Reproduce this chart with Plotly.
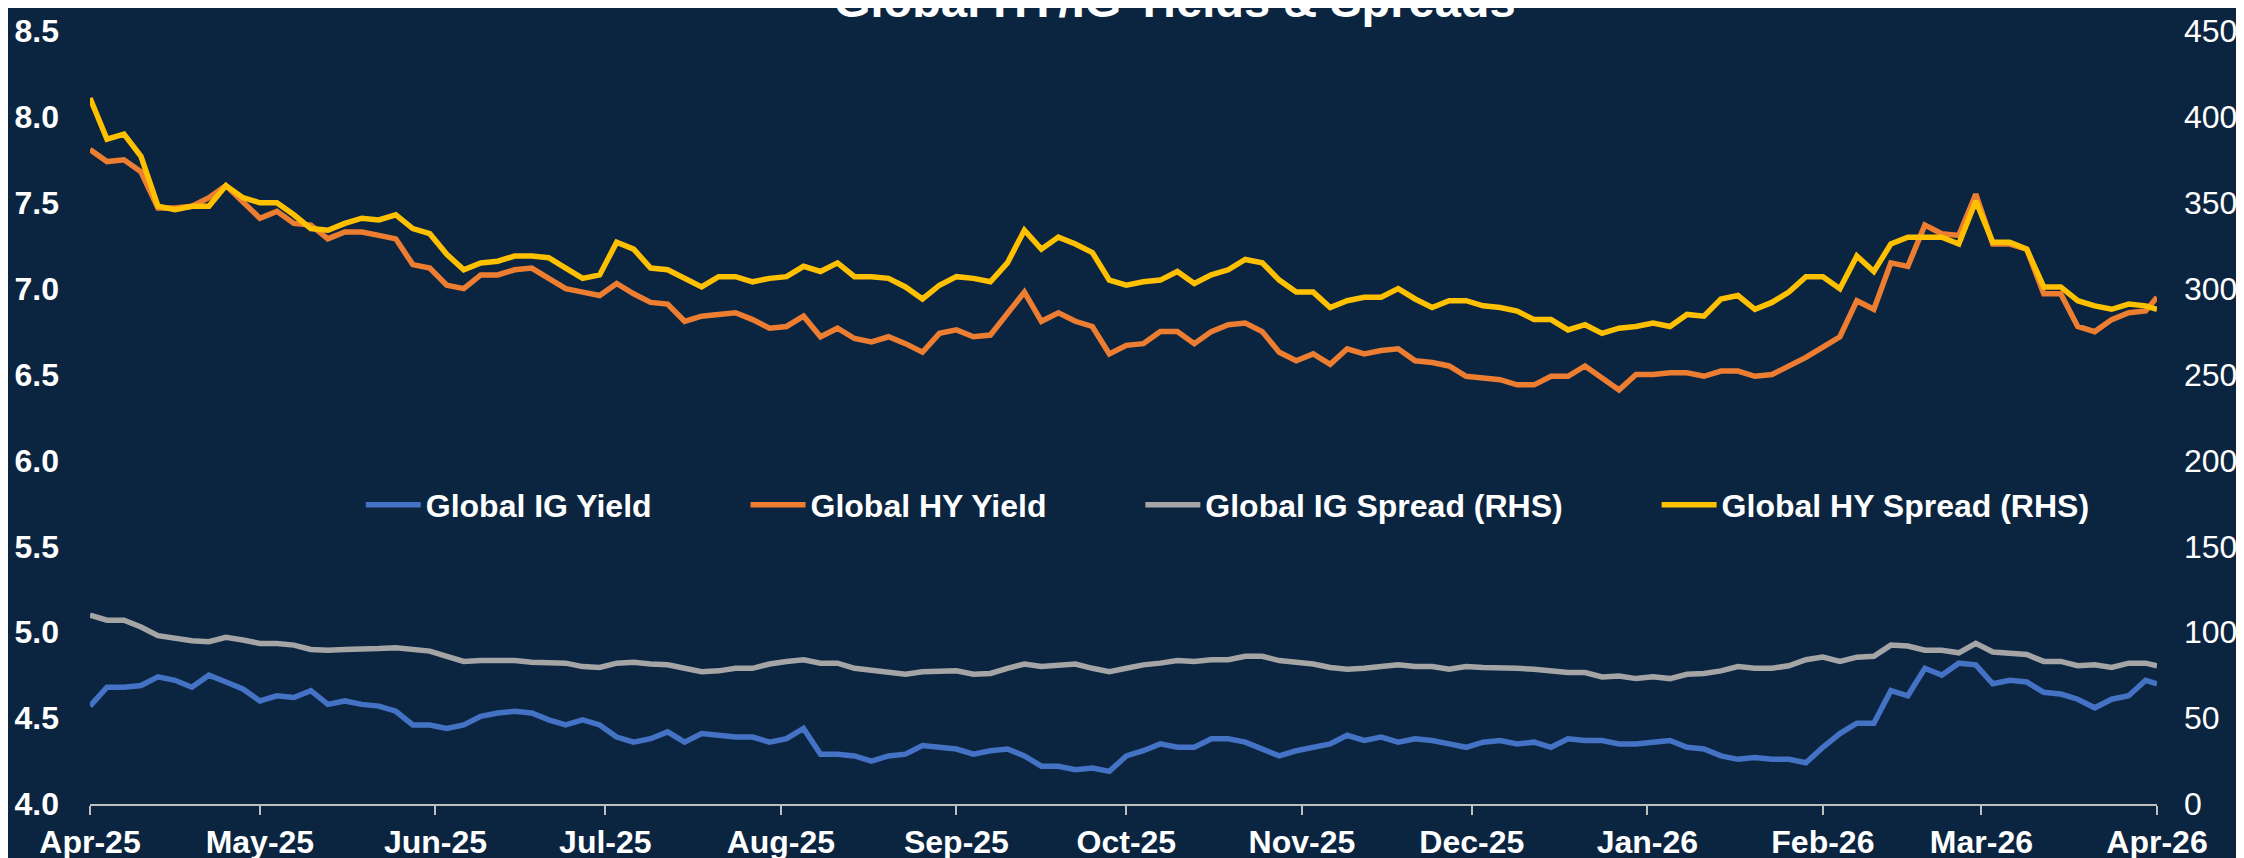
import pandas as pd
import plotly.graph_objects as go

# sample dates every 3 days, Apr-25 to Apr-26
dates = list(pd.date_range("2025-04-01", periods=122, freq="3D").strftime("%Y-%m-%d")) + ["2026-04-01"]

ig_yield = [
    4.57, 4.68, 4.68, 4.69, 4.74, 4.72, 4.68, 4.75, 4.71, 4.67, 4.60, 4.63, 4.62, 4.66, 4.58, 4.60, 4.58, 4.57, 4.54, 4.46,
    4.46, 4.44, 4.46, 4.51, 4.53, 4.54, 4.53, 4.49, 4.46, 4.49, 4.46, 4.39, 4.36, 4.38, 4.42, 4.36, 4.41, 4.40, 4.39, 4.39, 4.36,
    4.38, 4.44, 4.29, 4.29, 4.28, 4.25, 4.28, 4.29, 4.34, 4.33, 4.32, 4.29, 4.31, 4.32, 4.28, 4.22, 4.22, 4.20, 4.21, 4.19,
    4.28, 4.31, 4.35, 4.33, 4.33, 4.38, 4.38, 4.36, 4.32, 4.28, 4.31, 4.33, 4.35, 4.40, 4.37, 4.39, 4.36, 4.38, 4.37, 4.35, 4.33,
    4.36, 4.37, 4.35, 4.36, 4.33, 4.38, 4.37, 4.37, 4.35, 4.35, 4.36, 4.37, 4.33, 4.32, 4.28, 4.26, 4.27, 4.26, 4.26, 4.24,
    4.33, 4.41, 4.47, 4.47, 4.66, 4.63, 4.79, 4.75, 4.82, 4.81, 4.70, 4.72, 4.71, 4.65, 4.64, 4.61, 4.56, 4.61, 4.63, 4.72, 4.70,
]

hy_yield = [
    7.81, 7.74, 7.75, 7.68, 7.47, 7.47, 7.48, 7.53, 7.60, 7.50, 7.41, 7.45, 7.38, 7.37, 7.29, 7.33, 7.33, 7.31, 7.29, 7.14,
    7.12, 7.02, 7.00, 7.08, 7.08, 7.11, 7.12, 7.06, 7.00, 6.98, 6.96, 7.03, 6.97, 6.92, 6.91, 6.81, 6.84, 6.85, 6.86, 6.82, 6.77,
    6.78, 6.84, 6.72, 6.77, 6.71, 6.69, 6.72, 6.68, 6.63, 6.74, 6.76, 6.72, 6.73, 6.86, 6.98, 6.81, 6.86, 6.81, 6.78, 6.62,
    6.67, 6.68, 6.75, 6.75, 6.68, 6.75, 6.79, 6.80, 6.75, 6.63, 6.58, 6.62, 6.56, 6.65, 6.62, 6.64, 6.65, 6.58, 6.57, 6.55, 6.49,
    6.48, 6.47, 6.44, 6.44, 6.49, 6.49, 6.55, 6.48, 6.41, 6.50, 6.50, 6.51, 6.51, 6.49, 6.52, 6.52, 6.49, 6.50, 6.55, 6.60,
    6.66, 6.72, 6.93, 6.88, 7.15, 7.13, 7.37, 7.32, 7.31, 7.55, 7.26, 7.26, 7.23, 6.97, 6.97, 6.78, 6.75, 6.82, 6.86, 6.87, 6.95,
]

ig_spread = [
    110, 107, 107, 103, 98, 96.5, 95, 94.5, 97, 95.5, 93.5, 93.5, 92.5, 90, 89.5, 90, 90, 90.5, 91, 90,
    89, 86, 83, 83.5, 83.5, 83.5, 82.5, 82.5, 82, 80, 79.5, 82, 82.5, 81.5, 81, 79, 77, 77.5, 79, 79, 81.5,
    83, 84, 82, 82, 79, 78, 77, 75.5, 77, 77.5, 77.5, 75.5, 76, 79, 81.5, 80, 81, 81.5, 79, 77,
    79, 81, 82, 83.5, 83, 84, 84, 86, 86, 83.5, 82.5, 81.5, 79.5, 78.5, 79, 80, 81, 80, 80, 78.5, 80,
    79.5, 79.5, 79, 78.5, 77.5, 76.5, 76.5, 74, 74.5, 73, 74, 73, 75.5, 76, 77.5, 80, 79, 79, 80.5, 84,
    85.5, 83, 85.5, 86, 92.5, 92, 89.5, 89.5, 88, 93.5, 88.5, 87.5, 87, 83, 83, 80.5, 81, 79.5, 82, 82, 80.5,
]

hy_spread = [
    411, 387, 390, 377, 348, 346, 348, 348, 360, 353, 350, 350, 343, 335, 334, 338, 341, 340, 343, 335,
    332, 320, 311, 315, 316, 319, 319, 318, 312, 306, 308, 327, 323, 312, 311, 306, 301, 307, 307, 304, 306,
    307, 313, 310, 315, 307, 307, 306, 301, 294, 302, 307, 306, 304, 315, 334, 323, 330, 326, 321, 305,
    302, 304, 305, 310, 303, 308, 311, 317, 315, 305, 298, 298, 289, 293, 295, 295, 300, 294, 289, 293, 293,
    290, 289, 287, 282, 282, 276, 279, 274, 277, 278, 280, 278, 285, 284, 294, 296, 288, 292, 298, 307,
    307, 300, 319, 310, 326, 330, 330, 330, 326, 351, 327, 327, 323, 301, 301, 293, 290, 288, 291, 290, 288,
]

BG = "#0b2541"
FONT = "Arial, Liberation Sans, sans-serif"
pad = "\u00a0" * 10
LW = 5.5

fig = go.Figure()
fig.add_trace(go.Scatter(x=dates, y=ig_yield, name="Global IG Yield" + pad, mode="lines",
                         line=dict(color="#4472C4", width=LW)))
fig.add_trace(go.Scatter(x=dates, y=hy_yield, name="Global HY Yield" + pad, mode="lines",
                         line=dict(color="#ED7D31", width=LW)))
fig.add_trace(go.Scatter(x=dates, y=ig_spread, name="Global IG Spread (RHS)" + pad, mode="lines",
                         line=dict(color="#A5A5A5", width=LW), yaxis="y2"))
fig.add_trace(go.Scatter(x=dates, y=hy_spread, name="Global HY Spread (RHS)", mode="lines",
                         line=dict(color="#FFC000", width=LW), yaxis="y2"))

# page body adds an 8px margin, so the figure is 8px smaller each way
fig.update_layout(
    width=2236, height=850,
    paper_bgcolor=BG, plot_bgcolor=BG,
    margin=dict(l=82, r=87, t=23, b=54),
    font=dict(family=FONT, color="white", size=32),
    showlegend=True,
    legend=dict(orientation="h", x=0.131, xanchor="left", y=0.387, yanchor="middle",
                bgcolor="rgba(0,0,0,0)", itemwidth=55,
                font=dict(family=FONT, size=32, color="white", weight="bold")),
    xaxis=dict(type="date", range=["2025-04-01", "2026-04-01"], tick0="2025-04-01", dtick="M1",
               tickformat="%b-%y", showgrid=False, zeroline=False, automargin=False,
               showline=True, linecolor="#BFBFBF", linewidth=2,
               ticks="outside", ticklen=9, tickwidth=2, tickcolor="#BFBFBF",
               tickfont=dict(family=FONT, size=32, color="white", weight="bold")),
    yaxis=dict(range=[4, 8.5], dtick=0.5, tickformat=".1f", showgrid=False, zeroline=False,
               showline=False, ticks="", ticklabelstandoff=30, automargin=False,
               tickfont=dict(family=FONT, size=32, color="white", weight="bold")),
    yaxis2=dict(range=[0, 450], dtick=50, overlaying="y", side="right", showgrid=False,
                zeroline=False, showline=False, ticks="", ticklabelstandoff=26, automargin=False,
                tickfont=dict(family=FONT, size=32, color="white")),
    annotations=[dict(text="<b>Global HY/IG Yields & Spreads</b>", xref="paper", yref="paper",
                      x=0.525, y=1.04, xanchor="center", yanchor="middle", showarrow=False,
                      font=dict(family=FONT, size=47, color="white"))],
)

fig.write_html("out.html")
